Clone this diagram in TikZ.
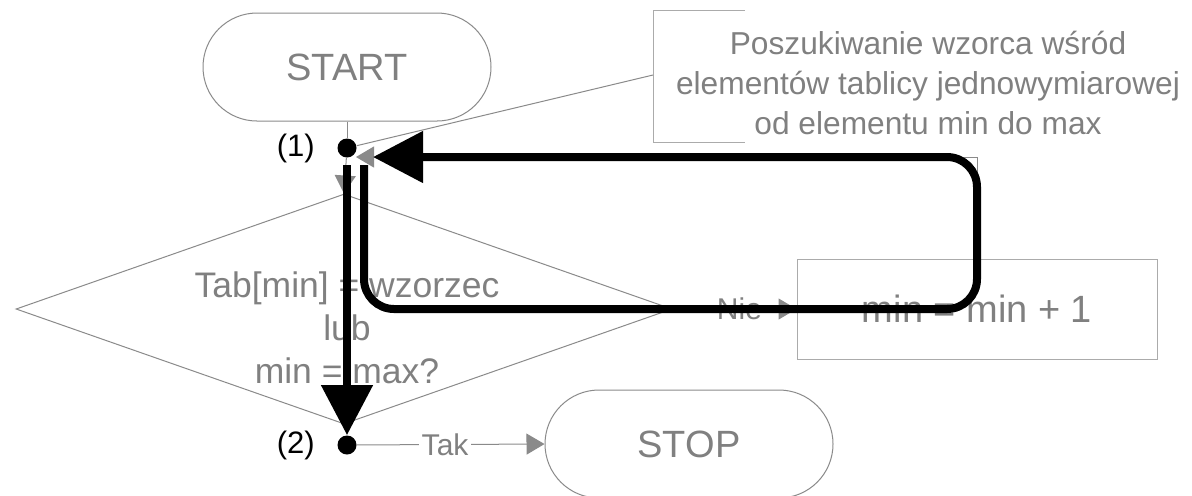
\documentclass[tikz,border=0pt]{standalone}
\usepackage{fontspec}
\setmainfont{Liberation Sans}
\usepackage{xcolor}
\usetikzlibrary{arrows.meta, positioning, calc, shapes.geometric}

\definecolor{txtgray}{HTML}{808080}
\definecolor{linegray}{HTML}{8A8A8A}
\definecolor{boxgray}{HTML}{ABABAB}

\begin{document}
\begin{tikzpicture}[x=0.5pt, y=-0.5pt]
	\tikzset{
		term/.style={draw=linegray, line width=0.5pt, rounded corners=27pt, minimum width=144pt, minimum height=54pt, text=txtgray, font=\fontsize{19pt}{22pt}\selectfont},
		dec/.style={draw=linegray, line width=0.5pt, diamond, minimum width=328pt, minimum height=115pt, inner sep=0pt},
		proc/.style={draw=boxgray, line width=0.5pt, minimum width=180pt, minimum height=50pt, text=txtgray, font=\fontsize{19pt}{22pt}\selectfont},
		dot/.style={circle, fill=black, inner sep=0pt, minimum size=9.5pt},
		num/.style={inner sep=0pt, font=\fontsize{15.5pt}{18pt}\selectfont},
		conn/.style={draw=linegray, line width=0.5pt},
		flow/.style={conn, -{Triangle[length=9pt, width=10.5pt]}, color=linegray},
		lab/.style={fill=white, inner sep=1.5pt, text=txtgray, font=\fontsize{15pt}{17pt}\selectfont},
		hl/.style={line width=4pt, -{Triangle[length=25pt, width=25pt]}}
	}
	\useasboundingbox (0,0) rectangle (1192,495);

	\node[term] (start) at (347,67) {START};
	\node[dot] (d1) at (347,148) {};
	\node[num, left=11pt of d1] (n1) {(1)};
	\node[dec] (dec) at (344,309) {};
	\node[text=txtgray, align=center, font=\fontsize{17.75pt}{21.5pt}\selectfont] (dectxt) at (347,328) {Tab[min] = wzorzec\\lub\\min = max?};
	\node[proc] (inc) at (977,309) {min = min + 1};
	\node[dot] (d2) at (347,445) {};
	\node[num, left=11pt of d2] (n2) {(2)};
	\node[term] (stop) at (689,444) {STOP};

	% komentarz
	\coordinate (brk) at (653,75);
	\draw[draw=boxgray, line width=0.5pt] (745,10) -| (653,142) -- (745,142);
	\node[text=txtgray, align=center, font=\fontsize{15.85pt}{20pt}\selectfont] (note) at (928,83) {Poszukiwanie wzorca wśród\\elementów tablicy jednowymiarowej\\od elementu min do max};
	\draw[conn] (brk) -- (d1);

	% polaczenia
	\draw[conn] (start) -- (d1);
	\draw[flow] (d1) -- (dec.north);
	\draw[flow] (dec.east) -- node[lab, pos=0.54] (nie) {Nie} (inc.west);
	\draw[flow] (d2) -- node[lab, pos=0.47] (tak) {Tak} (stop.west);
	\coordinate (back) at ($(d1)+(9,9)$);
	\draw[flow] (inc.north) |- (back);

	% wyrozniona sciezka
	\coordinate (lpA) at ($(d1)+(17,17)$);
	\coordinate (lpB) at ($(d1)+(26,9)$);
	\draw[hl, shorten <=3.75pt] (d1) -- (d2);
	\draw[hl, rounded corners=15pt] (lpA) |- (inc.center) |- (lpB);
\end{tikzpicture}
\end{document}
